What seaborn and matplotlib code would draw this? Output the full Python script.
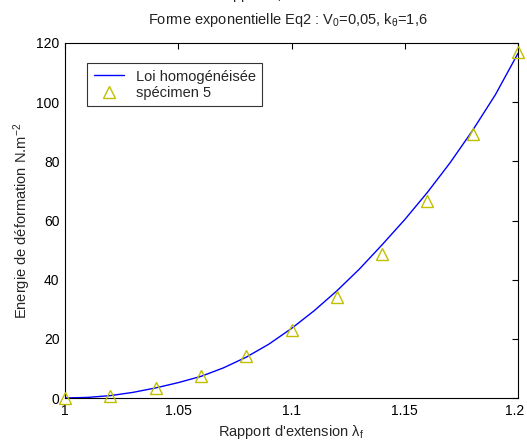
import numpy as np
import pandas as pd
import seaborn as sns
import matplotlib
matplotlib.use("Agg")
import matplotlib.pyplot as plt
import matplotlib.transforms as mtransforms

sns.set_theme(style="white")
plt.rcParams["font.family"] = ["Liberation Sans", "DejaVu Sans"]
plt.rcParams["mathtext.fontset"] = "custom"
plt.rcParams["mathtext.rm"] = "Liberation Sans"
plt.rcParams["mathtext.it"] = "Liberation Sans"
plt.rcParams["mathtext.default"] = "regular"

# homogenised law
lam_law = [1.00, 1.01, 1.02, 1.03, 1.04, 1.05, 1.06, 1.07, 1.08, 1.09, 1.10,
           1.11, 1.12, 1.13, 1.14, 1.15, 1.16, 1.17, 1.18, 1.19, 1.20]
energy_law = [0.0, 0.2, 0.8, 1.9, 3.4, 5.2, 7.3, 10.2, 13.8, 18.2, 23.5,
              29.5, 36.2, 43.6, 51.8, 60.3, 69.5, 79.5, 90.5, 102.5, 116.5]

# specimen 5 measurements
lam_spec = [1.00, 1.02, 1.04, 1.06, 1.08, 1.10, 1.12, 1.14, 1.16, 1.18, 1.20]
energy_spec = [0.0, 0.8, 3.5, 7.6, 14.2, 23.0, 34.2, 48.6, 66.5, 89.2, 116.8]

law_df = pd.DataFrame({"lam": lam_law, "energy": energy_law})
spec_df = pd.DataFrame({"lam": lam_spec, "energy": energy_spec})

fig = plt.figure(figsize=(5.27, 4.45), dpi=100)
ax = fig.add_axes([65 / 527, 1 - 398 / 445, 453 / 527, 355 / 445])

sns.lineplot(data=law_df, x="lam", y="energy", ax=ax, color="#0000ff",
             linewidth=1.0, label="Loi homogénéisée")
sns.lineplot(data=spec_df, x="lam", y="energy", ax=ax, linestyle="",
             marker="^", markersize=8, markerfacecolor="none",
             markeredgecolor="#bfbf00", markeredgewidth=1.0,
             color="#bfbf00", label="spécimen 5", clip_on=False, zorder=5)

ax.set_xlim(1, 1.2)
ax.set_ylim(0, 120)
ax.set_xticks([1, 1.05, 1.1, 1.15, 1.2])
ax.set_xticklabels(["1", "1.05", "1.1", "1.15", "1.2"])
ax.set_yticks(range(0, 121, 20))
ax.tick_params(direction="in", length=4, width=0.8, colors="black",
               labelsize=10, top=True, right=True, pad=4)
for s in ax.spines.values():
    s.set_color("black")
    s.set_linewidth(0.8)

# keep the last x tick label inside the canvas
last = ax.get_xticklabels()[-1]
last.set_transform(last.get_transform() +
                   mtransforms.ScaledTranslation(-3 / 100, 0, fig.dpi_scale_trans))

ax.set_xlabel("Rapport d'extension λ$_f$", fontsize=10.5, labelpad=4)
ax.set_ylabel("Energie de déformation N.m$^{-2}$", fontsize=10.5, labelpad=2)

# first title line is cut by the top edge in the original, only descenders show
fig.text(282 / 527, 1 + 1 / 445, "Identification du rapport λ$_f$",
         ha="right", va="baseline", fontsize=10.5, color="#222222")
fig.text(288 / 527, 1 - 24 / 445,
         "Forme exponentielle Eq2 : V$_0$=0,05, k$_θ$=1,6",
         ha="center", va="baseline", fontsize=10.5, color="#222222")

leg = ax.legend(loc="upper left", bbox_to_anchor=(22 / 453, 335 / 355),
                frameon=True, fancybox=False, fontsize=10.5,
                handlelength=2.1, handletextpad=0.8, borderpad=0.45,
                labelspacing=0.15, borderaxespad=0)
leg.get_frame().set_edgecolor("black")
leg.get_frame().set_linewidth(0.8)

fig.savefig("out.png", dpi=100)
